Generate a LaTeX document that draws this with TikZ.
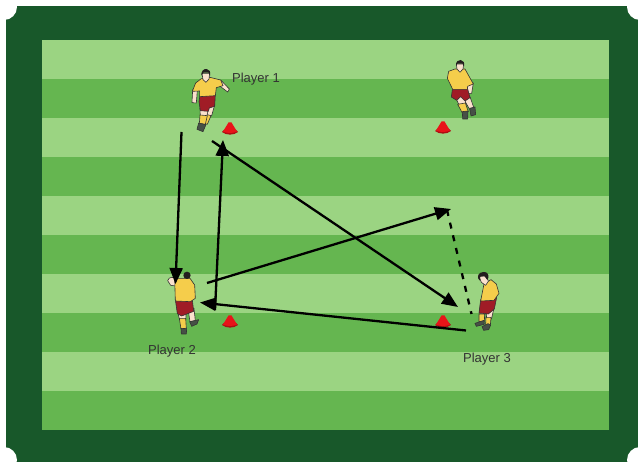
\documentclass[tikz,border=0pt]{standalone}
\usepackage{fontspec}
\setmainfont{Liberation Sans}
\usetikzlibrary{arrows.meta}
\definecolor{pitchDark}{RGB}{101,182,80}
\definecolor{pitchLight}{RGB}{155,212,130}
\definecolor{borderColor}{RGB}{24,88,42}
\definecolor{shirtColor}{RGB}{245,205,75}
\definecolor{shortsColor}{RGB}{160,28,38}
\definecolor{skinColor}{RGB}{250,225,205}
\definecolor{hairColor}{RGB}{35,30,30}
\definecolor{bootColor}{RGB}{70,80,70}
\definecolor{coneColor}{RGB}{232,20,25}
\tikzset{
  kit/.style={draw=black!80,line width=0.6pt,line join=round},
  skin/.style={kit,fill=skinColor},
  shirt/.style={kit,fill=shirtColor},
  shorts/.style={kit,fill=shortsColor},
  sock/.style={kit,fill=shirtColor},
  boot/.style={kit,fill=bootColor},
  hair/.style={fill=hairColor},
  run/.style={-{Triangle[length=16pt,width=13pt]},line width=2.3pt,black},
  runback/.style={line width=2.3pt,black,dash pattern=on 6pt off 7pt},
  tag/.style={inner sep=0pt,outer sep=0pt,font=\fontsize{13}{15}\selectfont,text=black!80},
  local/.style={x=0.3333pt,y=-0.3333pt}
}
% one cone, centred on the given point
\newcommand{\cone}[2]{
  \path[fill=coneColor!75!black] (#1-8,#2+4) .. controls (#1-4,#2+7.5) and (#1+4,#2+7.5) .. (#1+8,#2+4) -- (#1+6,#2+2) -- (#1-6,#2+2) -- cycle;
  \path[fill=coneColor] (#1-7,#2+3.5) .. controls (#1-3,#2+5.5) and (#1+3,#2+5.5) .. (#1+7,#2+3.5) -- (#1+1.5,#2-5.5) -- (#1-1.5,#2-5.5) -- cycle;
}
\begin{document}
\begin{tikzpicture}[x=1pt,y=-1pt]
\useasboundingbox (0,0) rectangle (638,462);
% border with the corners cut out
\path[fill=borderColor] (6,6) rectangle (638,462);
\foreach \cx/\cy in {4/7,640/7,4/460,640/460}
  \path[fill=white] (\cx,\cy) circle (13);
% stripes of the pitch
\path[fill=pitchLight] (42,40) rectangle (609,430);
\foreach \sy in {79,157,235,313,391}
  \path[fill=pitchDark] (42,\sy) rectangle (609,\sy+39);
% cones
\cone{230}{128}
\cone{443}{127}
\cone{230}{321}
\cone{443}{321}
% top left player
\begin{scope}[shift={(160,55)},local]
\path[skin] (183,76) -- (208,102) -- (203,111) -- (178,92) -- cycle;
\path[skin] (98,104) -- (112,106) -- (109,144) -- (96,143) -- cycle;
\path[skin] (141,150) -- (164,150) -- (155,182) -- (142,195) -- (128,190) -- cycle;
\path[sock] (131,176) -- (153,182) -- (142,208) -- (125,203) -- cycle;
\path[skin] (120,160) -- (146,160) -- (140,185) -- (121,185) -- cycle;
\path[sock] (120,180) -- (142,182) -- (136,208) -- (118,206) -- cycle;
\path[boot] (116,204) -- (138,209) -- (129,230) -- (111,223) -- cycle;
\path[shorts] (120,120) -- (166,118) -- (164,154) -- (148,159) -- (145,169) -- (121,167) -- (117,140) -- cycle;
\path[shirt] (124,71) -- (150,67) -- (182,75) -- (189,92) -- (169,98) -- (166,122) -- (119,125) -- (119,108) -- (97,109) -- (107,84) -- cycle;
\path[skin] (126,55) -- (149,55) -- (147,72) -- (138,82) -- (129,74) -- cycle;
\path[hair] (124,62) .. controls (123,48) and (131,41) .. (140,42) .. controls (149,43) and (152,50) .. (150,62) -- (146,53) -- (130,53) -- cycle;
\end{scope}
% top right player
\begin{scope}[shift={(420,55)},local]
\path[skin] (138,88) -- (160,84) -- (155,115) -- (132,115) -- cycle;
\path[skin] (131,132) -- (150,125) -- (162,160) -- (150,165) -- cycle;
\path[boot] (149,160) -- (165,156) -- (167,179) -- (153,183) -- cycle;
\path[skin] (106,126) -- (133,122) -- (138,150) -- (121,158) -- cycle;
\path[sock] (113,148) -- (136,144) -- (145,170) -- (127,174) -- cycle;
\path[boot] (127,170) -- (144,168) -- (143,192) -- (128,192) -- cycle;
\path[shorts] (98,98) -- (142,98) -- (150,128) -- (135,138) -- (122,125) -- (110,136) -- (94,126) -- cycle;
\path[shirt] (105,42) -- (135,42) -- (160,87) -- (143,94) -- (142,103) -- (98,103) -- (82,70) -- (86,49) -- cycle;
\path[skin] (109,27) -- (131,27) -- (129,42) -- (120,52) -- (111,42) -- cycle;
\path[hair] (108,32) .. controls (107,20) and (115,14) .. (122,15) .. controls (131,16) and (134,24) .. (132,34) -- (128,26) -- (112,26) -- cycle;
\end{scope}
% player with the back turned
\begin{scope}[shift={(140,260)},local]
\path[skin] (83,62) .. controls (87,50) and (100,48) .. (110,60) -- (108,78) -- (92,76) -- cycle;
\path[skin] (145,152) -- (162,145) -- (166,183) -- (150,185) -- cycle;
\path[boot] (149,185) -- (176,179) -- (171,192) -- (155,199) -- cycle;
\path[skin] (114,160) -- (139,155) -- (137,180) -- (119,180) -- cycle;
\path[sock] (118,175) -- (137,175) -- (139,207) -- (123,207) -- cycle;
\path[boot] (123,205) -- (140,206) -- (139,222) -- (124,222) -- cycle;
\path[shorts] (106,119) -- (157,119) -- (161,154) -- (125,168) -- (112,161) -- cycle;
\path[shirt] (104,55) -- (150,55) -- (164,75) -- (166,115) -- (151,125) -- (106,123) -- cycle;
\path[hair] (141,46) circle (11);
\end{scope}
% player on the ball
\begin{scope}[shift={(425,260)},local]
\path[skin] (194,110) -- (210,104) -- (201,132) -- (188,130) -- cycle;
\path[skin] (186,150) -- (207,145) -- (199,178) -- (184,178) -- cycle;
\path[sock] (183,172) -- (198,172) -- (196,197) -- (182,197) -- cycle;
\path[boot] (171,200) -- (189,191) -- (197,195) -- (191,209) -- (176,211) -- cycle;
\path[skin] (163,150) -- (185,150) -- (179,166) -- (167,166) -- cycle;
\path[sock] (162,162) -- (179,162) -- (178,185) -- (162,185) -- cycle;
\path[boot] (150,190) -- (177,181) -- (178,193) -- (154,199) -- cycle;
\path[shorts] (167,119) -- (215,112) -- (208,147) -- (190,162) -- (162,159) -- cycle;
\path[shirt] (177,72) -- (198,59) -- (214,72) -- (222,100) -- (207,121) -- (167,123) -- cycle;
\path[skin] (162,48) -- (185,48) -- (190,64) -- (182,76) -- (169,67) -- cycle;
\path[hair] (159,54) .. controls (156,40) and (172,33) .. (183,37) .. controls (192,41) and (192,52) .. (187,60) -- (178,48) -- (166,50) -- (164,62) -- cycle;
\end{scope}
% names
\node[tag] (nameOne) at (256,79.5) {Player 1};
\node[tag] (nameTwo) at (172,351.5) {Player 2};
\node[tag] (nameThree) at (487,359) {Player 3};
% ends of the runs
\coordinate (oneFoot) at (181.5,132);
\coordinate (twoHead) at (175.5,284);
\coordinate (twoKnee) at (215,310);
\coordinate (coneTip) at (223,140);
\coordinate (oneSide) at (212,141);
\coordinate (threeBall) at (458,307);
\coordinate (twoChest) at (207,283);
\coordinate (freeSpot) at (451,209);
\coordinate (threeFoot) at (466,330.5);
\coordinate (twoHip) at (200,302.5);
\coordinate (dashTop) at (447,210);
\coordinate (threeHand) at (471.5,314);
\draw[run] (oneFoot) -- (twoHead);
\draw[run] (twoKnee) -- (coneTip);
\draw[run] (oneSide) -- (threeBall);
\draw[run] (twoChest) -- (freeSpot);
\draw[run] (threeFoot) -- (twoHip);
\draw[runback] (dashTop) -- (threeHand);
\end{tikzpicture}
\end{document}
